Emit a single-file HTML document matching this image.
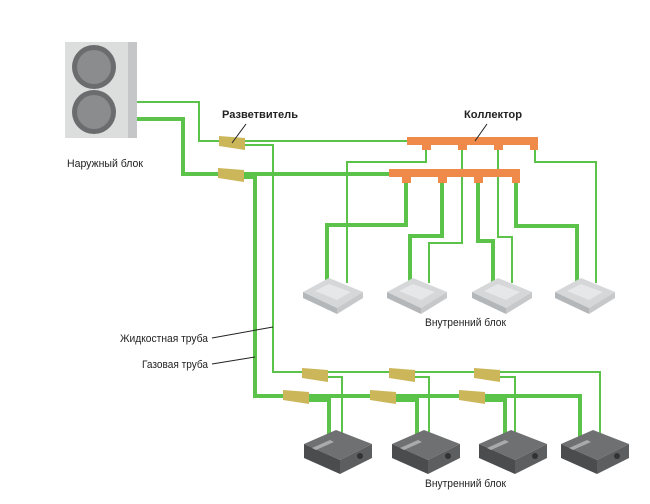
<!DOCTYPE html>
<html><head><meta charset="utf-8"><style>
html,body{margin:0;padding:0;background:#fff;width:650px;height:504px;overflow:hidden}
svg{display:block}
text{font-family:"Liberation Sans","Noto Sans CJK SC",sans-serif;fill:#222}
</style></head><body>
<svg width="650" height="504" viewBox="0 0 650 504" xmlns="http://www.w3.org/2000/svg">
<defs>
<g id="cas">
<polygon points="-30,-2 -4,-16 30,-2 4,14" fill="#d5d7d8"/>
<polygon points="-30,-2 4,14 4,20 -30,4" fill="#b4b7b9"/>
<polygon points="4,14 30,-2 30,4 4,20" fill="#c6c8ca"/>
<polygon points="-18,-3 -4,-10 18,-2 4,6" fill="#e6e7e8"/>
</g>
<g id="duct">
<polygon points="-34,-6 -2,-20 34,-6 2,10" fill="#6e7072"/>
<polygon points="-34,-6 2,10 2,24 -34,8" fill="#4a4c4e"/>
<polygon points="2,10 34,-6 34,8 2,24" fill="#5c5e60"/>
<polygon points="-26,-2 -8,-10 -4,-8 -22,0" fill="#a8aaac"/>
<circle cx="22" cy="6" r="3" fill="#333"/>
</g>
<polygon id="spl" points="0,0 26,2 26,14 0,10" fill="#cbb65a"/>
</defs>

<!-- outdoor unit -->
<rect x="65" y="42" width="72" height="96" fill="#dcdddd"/>
<rect x="128" y="42" width="9" height="96" fill="#c4c6c7"/>
<circle cx="94" cy="67" r="22" fill="#6a6c6e"/>
<circle cx="94" cy="67" r="17" fill="#8a8c8e"/>
<circle cx="94" cy="112" r="22" fill="#6a6c6e"/>
<circle cx="94" cy="112" r="17" fill="#8a8c8e"/>
<text x="67" y="167" font-size="11" textLength="76" lengthAdjust="spacingAndGlyphs">Наружный блок</text>

<g fill="none" stroke="#5bc24a" stroke-linejoin="miter">
<g stroke-width="2">
<polyline points="137,102 199,102 199,141 408,141"/>
<polyline points="240,145 273,145 273,372 600,372 600,440"/>
<polyline points="426,145 426,162 347,162 347,283"/>
<polyline points="462,145 462,243 429,243 429,283"/>
<polyline points="498,145 498,237 512,237 512,283"/>
<polyline points="535,145 535,162 596,162 596,283"/>
<polyline points="320,377 342,377 342,440"/>
<polyline points="408,377 429,377 429,440"/>
<polyline points="492,377 515,377 515,440"/>
</g>
<g stroke-width="4">
<polyline points="137,119 183,119 183,174 390,174"/>
<polyline points="240,177 255,177 255,396 580,396 580,443"/>
<polyline points="406,178 406,225 327,225 327,283"/>
<polyline points="442,178 442,236 410,236 410,283"/>
<polyline points="478,178 478,241 493,241 493,283"/>
<polyline points="516,178 516,226 577,226 577,283"/>
<polyline points="300,400 329,400 329,440"/>
<polyline points="390,400 417,400 417,440"/>
<polyline points="478,400 505,400 505,440"/>
</g>
</g>

<use href="#spl" x="219" y="136"/>
<use href="#spl" x="218" y="168"/>
<use href="#spl" x="302" y="368"/>
<use href="#spl" x="389" y="368"/>
<use href="#spl" x="474" y="368"/>
<use href="#spl" x="283" y="390"/>
<use href="#spl" x="370" y="390"/>
<use href="#spl" x="459" y="390"/>

<g fill="#f08a4b">
<rect x="407" y="137" width="131" height="8"/>
<rect x="422" y="143" width="9" height="7"/><rect x="458" y="143" width="9" height="7"/>
<rect x="494" y="143" width="9" height="7"/><rect x="530" y="143" width="8" height="7"/>
<rect x="389" y="169" width="131" height="8"/>
<rect x="402" y="175" width="9" height="8"/><rect x="438" y="175" width="9" height="8"/>
<rect x="474" y="175" width="9" height="8"/><rect x="512" y="175" width="8" height="8"/>
</g>

<use href="#cas" x="333" y="294"/>
<use href="#cas" x="417" y="294"/>
<use href="#cas" x="502" y="294"/>
<use href="#cas" x="585" y="294"/>
<use href="#duct" x="338" y="450"/>
<use href="#duct" x="426" y="450"/>
<use href="#duct" x="513" y="450"/>
<use href="#duct" x="595" y="450"/>

<text x="222" y="118" font-size="11" font-weight="bold" textLength="76" lengthAdjust="spacingAndGlyphs">Разветвитель</text>
<line x1="246" y1="124" x2="232" y2="143" stroke="#222" stroke-width="1"/>
<text x="464" y="118" font-size="11" font-weight="bold" textLength="58" lengthAdjust="spacingAndGlyphs">Коллектор</text>
<line x1="487" y1="124" x2="475" y2="141" stroke="#222" stroke-width="1"/>
<text x="425" y="326" font-size="11" textLength="81" lengthAdjust="spacingAndGlyphs">Внутренний блок</text>
<text x="425" y="487" font-size="11" textLength="81" lengthAdjust="spacingAndGlyphs">Внутренний блок</text>
<text x="120" y="342" font-size="11" textLength="88" lengthAdjust="spacingAndGlyphs">Жидкостная труба</text>
<line x1="212" y1="338" x2="273" y2="327" stroke="#222" stroke-width="1"/>
<text x="142" y="368" font-size="11" textLength="66" lengthAdjust="spacingAndGlyphs">Газовая труба</text>
<line x1="212" y1="364" x2="255" y2="357" stroke="#222" stroke-width="1"/>
</svg>
</body></html>
